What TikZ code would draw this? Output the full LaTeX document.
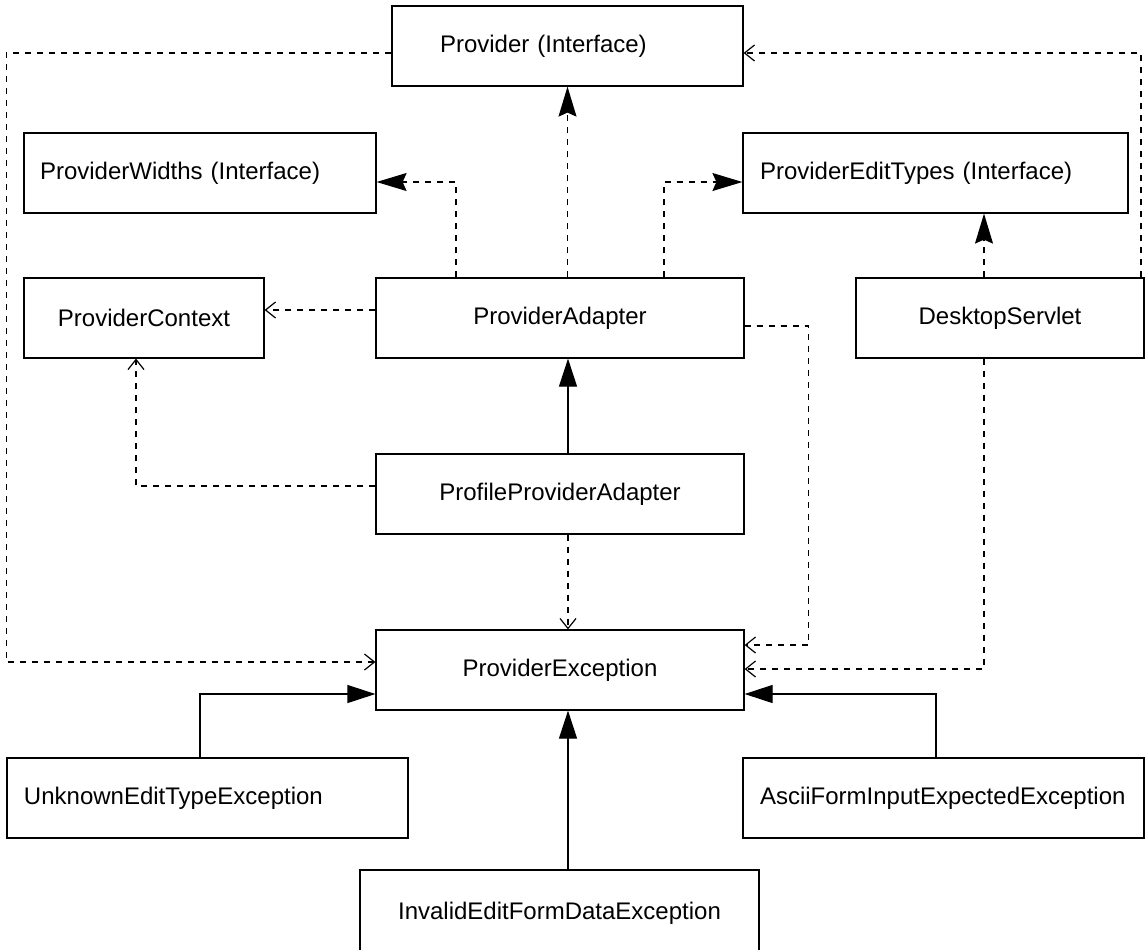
\documentclass[tikz,border=0pt]{standalone}
\usepackage{fontspec}
\setmainfont{Liberation Sans}
\usepackage{tikz}
\usetikzlibrary{arrows.meta,calc}
\tikzset{
    cls/.style={draw, line width=0.6pt, minimum height=40pt, inner sep=0pt, font=\fontsize{12}{14}\selectfont},
    lcls/.style={cls, align=left, text width=#1},
    dep/.style={line width=0.6pt, dash pattern=on 3pt off 3pt, -{Straight Barb[length=5pt,width=8pt]}},
    real/.style={line width=0.6pt, dash pattern=on 3pt off 3pt, -{Stealth[length=15pt,width=9pt,inset=2pt]}},
    gen/.style={line width=0.6pt, -{Triangle[length=14pt,width=9pt]}},
}

\begin{document}
\begin{tikzpicture}[x=0.5pt, y=-0.5pt]
\useasboundingbox (0,0) rectangle (1145,949);

% Interfaces
\node[lcls=127.5pt, inner xsep=24pt] (prov) at (567.5,46) {Provider (Interface)};
\node[lcls=160pt, inner xsep=8pt] (widths) at (200,173) {ProviderWidths (Interface)};
\node[lcls=175.5pt, inner xsep=8.5pt] (edit) at (935.5,173) {ProviderEditTypes (Interface)};

% Classes
\node[cls, minimum width=120pt] (ctx) at (144,318) {ProviderContext};
\node[cls, minimum width=184pt] (adapter) at (560,318) {ProviderAdapter};
\node[cls, minimum width=144pt] (servlet) at (1000,318) {DesktopServlet};
\node[cls, minimum width=184pt] (profile) at (560,494) {ProfileProviderAdapter};

% Exceptions
\node[cls, minimum width=184pt] (exc) at (560,670) {ProviderException};
\node[lcls=183.5pt, inner xsep=8.5pt] (unknown) at (207.5,798) {UnknownEditTypeException};
\node[lcls=183.5pt, inner xsep=8.5pt] (ascii) at (943.5,798) {AsciiFormInputExpectedException};
\node[cls, minimum width=199.5pt, minimum height=43pt] (invalid) at (559.5,913) {InvalidEditFormDataException};

% Provider uses ProviderException
\draw[dep] ($(prov.west)+(0,7)$) -- ++(-385,0) |- ($(exc.west)+(0,-8)$);

% ProviderAdapter implements
\draw[real] (adapter.north -| prov.south) -- (prov.south);
\draw[real] ($(adapter.north)+(-104,0)$) |- ($(widths.east)+(0,9)$);
\draw[real] ($(adapter.north)+(104,0)$) |- ($(edit.west)+(0,9)$);

% uses ProviderContext
\draw[dep] ($(adapter.west)+(0,-8)$) -- ($(ctx.east)+(0,-8)$);
\draw[dep] ($(profile.west)+(0,-8)$) -| ($(ctx.south)+(-8,0)$);

% throws ProviderException
\draw[dep] ($(adapter.east)+(0,8)$) -- ++(64,0) |- ($(exc.east)+(0,-25)$);
\draw[dep] ($(servlet.south)+(-16,0)$) |- ($(exc.east)+(0,-1)$);
\draw[dep] ($(profile.south)+(8,0)$) -- ($(exc.north)+(8,0)$);

% DesktopServlet
\draw[real] ($(servlet.north)+(-16,0)$) -- ($(edit.south)+(48.5,0)$);
\draw[dep] ($(servlet.north)+(141,0)$) |- ($(prov.east)+(0,7)$);

% Inheritance
\draw[gen] ($(profile.north)+(8,0)$) -- ($(adapter.south)+(8,0)$);
\draw[gen] ($(unknown.north)+(-7.5,0)$) |- ($(exc.west)+(0,24)$);
\draw[gen] ($(ascii.north)+(-7.5,0)$) |- ($(exc.east)+(0,24)$);
\draw[gen] ($(invalid.north)+(8.5,0)$) -- ($(exc.south)+(8,0)$);

\end{tikzpicture}
\end{document}
